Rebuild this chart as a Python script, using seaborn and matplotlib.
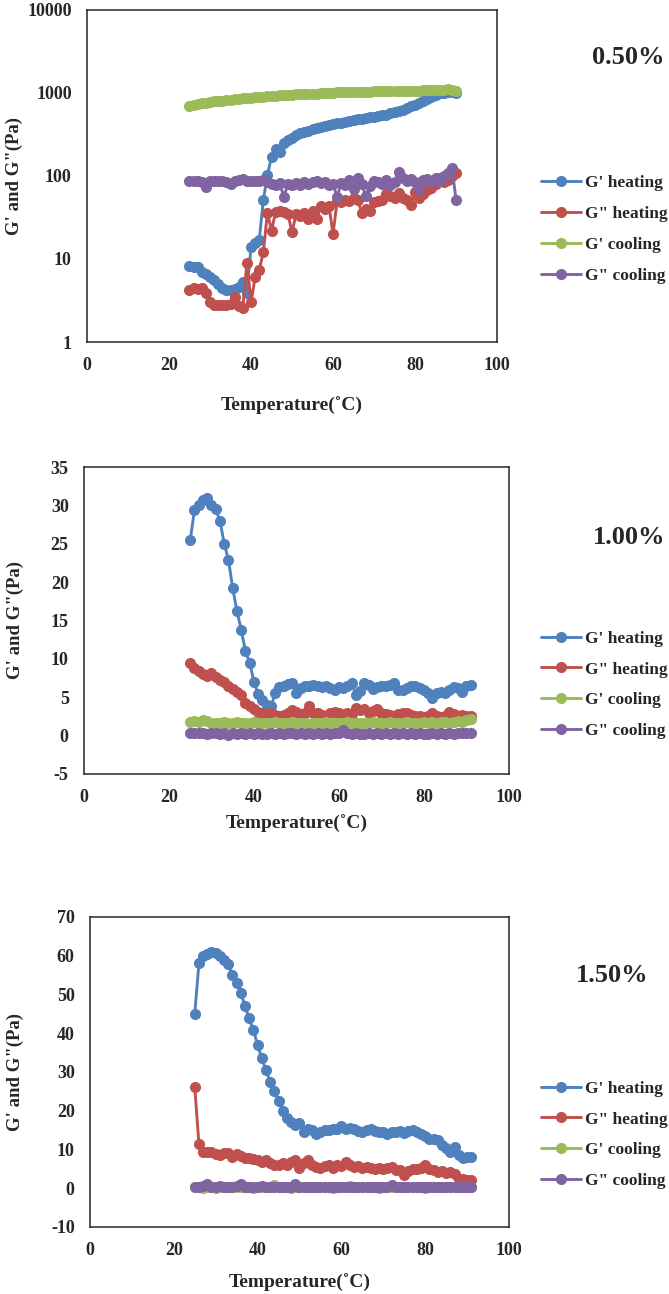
import numpy as np
import pandas as pd
import matplotlib
matplotlib.use("Agg")
import matplotlib.pyplot as plt
import seaborn as sns

# ---------------- data ----------------
series_names = ["G' heating", 'G" heating', "G' cooling", 'G" cooling']
series_colors = ["#4F81BD", "#C0504D", "#9BBB59", "#8064A2"]

# 0.50 % (log axis)
p1_temp = list(range(25, 91))
p1_g1_heat = [8.2, 8.0, 7.9, 7.0, 6.6, 6.0, 5.6, 5.0, 4.5, 4.2,
              4.2, 4.4, 4.6, 5.3, 3.9, 14, 15.5, 17, 51, 102,
              170, 210, 195, 250, 270, 290, 310, 330, 340, 350,
              365, 380, 390, 400, 410, 420, 430, 440, 450, 460,
              470, 480, 490, 500, 510, 520, 530, 540, 550, 570,
              590, 610, 630, 660, 690, 720, 760, 800, 850, 900,
              950, 990, 1010, 1030, 1040, 1000]
p1_g2_heat = [4.2, 4.5, 4.4, 4.5, 3.9, 3.0, 2.8, 2.8, 2.8, 2.8,
              2.9, 3.5, 2.7, 2.6, 9.0, 3.0, 6.0, 7.4, 12, 36,
              22, 37, 38, 37, 35, 21, 35, 33, 36, 30,
              38, 30, 43, 40, 44, 20, 50, 48, 52, 50,
              55, 52, 36, 40, 38, 48, 50, 52, 60, 58,
              55, 62, 55, 52, 45, 65, 55, 60, 68, 72,
              80, 95, 85, 90, 100, 110]
p1_g1_cool = [690, 710, 730, 750, 765, 780, 790, 800, 810, 820,
              830, 840, 850, 860, 870, 880, 890, 900, 905, 910,
              920, 930, 935, 940, 950, 955, 960, 965, 970, 975,
              980, 985, 990, 995, 1000, 1010, 1015, 1020, 1020, 1025,
              1030, 1030, 1035, 1040, 1040, 1045, 1045, 1050, 1050, 1050,
              1050, 1055, 1055, 1060, 1060, 1065, 1070, 1080, 1090, 1085,
              1080, 1090, 1100, 1110, 1100, 1060]
p1_g2_cool = [88, 88, 86, 85, 74, 86, 87, 86, 88, 85,
              80, 88, 90, 92, 88, 86, 88, 87, 90, 85,
              80, 78, 82, 56, 80, 78, 82, 78, 85, 80,
              84, 88, 82, 84, 78, 80, 56, 82, 78, 90,
              70, 95, 80, 57, 75, 88, 85, 80, 90, 78,
              85, 112, 95, 88, 92, 85, 70, 90, 92, 85,
              95, 88, 100, 110, 125, 52]

# 1.00 %
p2_temp = list(range(25, 92))
p2_g1_heat = [25.5, 29.4, 30.0, 30.7, 31.0, 30.0, 29.5, 28.0, 25.0, 22.9,
              19.2, 16.2, 13.8, 11.0, 9.5, 7.0, 5.4, 4.6, 4.0, 3.8,
              5.5, 6.3, 6.5, 6.7, 6.8, 5.5, 6.2, 6.4, 6.5, 6.6,
              6.4, 6.3, 6.4, 6.2, 5.9, 6.3, 6.2, 6.5, 6.8, 5.3,
              5.8, 6.8, 6.6, 6.1, 6.3, 6.5, 6.4, 6.6, 6.8, 6.0,
              5.9, 6.2, 6.4, 6.5, 6.2, 5.9, 5.5, 4.9, 5.5, 5.7,
              5.5, 6.0, 6.3, 6.2, 5.7, 6.5, 6.6]
p2_g2_heat = [9.4, 8.8, 8.4, 8.0, 7.7, 8.1, 7.6, 7.2, 7.0, 6.4,
              6.1, 5.7, 5.3, 4.2, 3.8, 3.4, 3.1, 2.9, 2.8, 2.9,
              2.7, 2.5, 2.7, 2.9, 3.3, 3.1, 2.8, 3.0, 3.8, 3.0,
              2.9, 2.7, 2.6, 2.9, 3.1, 3.0, 2.7, 2.9, 2.8, 3.6,
              3.3, 3.4, 3.0, 3.2, 3.4, 3.0, 2.8, 2.7, 2.6, 2.8,
              2.9, 3.0, 2.7, 2.6, 2.5, 2.4, 2.6, 3.0, 2.5, 2.4,
              2.6, 3.1, 2.8, 2.6, 2.7, 2.6, 2.5]
p2_g1_cool = [1.8, 1.9, 1.8, 2.0, 1.9, 1.7, 1.6, 1.7, 1.8, 1.6,
              1.7, 1.8, 1.7, 1.6, 1.6, 1.8, 1.7, 1.6, 1.7, 1.6,
              1.8, 1.7, 1.6, 1.7, 1.8, 1.6, 1.7, 1.6, 1.5, 1.7,
              1.6, 1.7, 1.8, 1.6, 1.7, 1.6, 1.7, 1.8, 1.7, 1.6,
              1.7, 1.6, 1.7, 1.8, 1.7, 1.6, 1.7, 1.8, 1.7, 1.6,
              1.7, 1.8, 1.7, 1.6, 1.7, 1.8, 1.7, 1.8, 1.7, 1.8,
              1.8, 1.7, 1.8, 1.9, 1.8, 2.0, 2.1]
p2_g2_cool = [0.3, 0.4, 0.3, 0.3, 0.2, 0.3, 0.3, 0.2, 0.3, 0.1,
              0.3, 0.2, 0.3, 0.2, 0.3, 0.2, 0.3, 0.2, 0.2, 0.3,
              0.2, 0.3, 0.2, 0.3, 0.3, 0.2, 0.3, 0.2, 0.3, 0.2,
              0.3, 0.2, 0.3, 0.2, 0.3, 0.4, 0.7, 0.3, 0.2, 0.3,
              0.2, 0.2, 0.3, 0.2, 0.3, 0.2, 0.3, 0.2, 0.3, 0.2,
              0.3, 0.2, 0.3, 0.2, 0.3, 0.2, 0.2, 0.3, 0.2, 0.3,
              0.2, 0.3, 0.2, 0.3, 0.3, 0.3, 0.4]

# 1.50 %
p3_temp = list(range(25, 92))
p3_g1_heat = [44.9, 58.0, 59.8, 60.5, 61.0, 60.8, 60.0, 59.0, 57.8, 55.0,
              53.0, 50.5, 47.0, 43.8, 40.8, 37.0, 33.5, 30.5, 27.5, 25.0,
              22.5, 20.0, 18.2, 17.0, 16.3, 16.7, 14.6, 15.4, 15.0, 14.0,
              14.6, 15.0, 15.0, 15.2, 15.4, 16.0, 15.4, 15.6, 15.2, 14.8,
              14.6, 15.0, 15.2, 14.8, 14.5, 14.4, 14.1, 14.6, 14.4, 14.8,
              14.3, 14.8, 14.9, 14.6, 14.0, 13.4, 12.8, 12.6, 12.4, 11.1,
              10.5, 9.4, 10.7, 8.5, 7.7, 8.0, 8.1]
p3_g2_heat = [26.2, 11.4, 9.4, 9.4, 9.4, 8.8, 8.5, 9.0, 9.1, 8.1,
              8.8, 8.3, 7.9, 7.7, 7.5, 7.2, 6.8, 7.2, 6.4, 6.1,
              5.9, 6.4, 5.9, 6.8, 7.2, 5.1, 6.6, 7.2, 6.0, 5.5,
              5.1, 5.7, 5.9, 5.1, 5.9, 5.7, 6.8, 5.9, 5.5, 5.7,
              5.3, 5.5, 5.1, 5.0, 5.3, 5.0, 5.1, 5.6, 4.8, 4.6,
              3.4, 4.5, 4.9, 5.0, 5.3, 5.9, 5.0, 4.6, 4.2, 4.4,
              3.8, 4.2, 3.6, 2.5, 2.4, 2.2, 2.1]
p3_g1_cool = [0.2, 0.2, 0.1, 0.3, 0.2, 0.1, 0.2, 0.2, 0.3, 0.2,
              0.2, 0.3, 0.2, 0.2, 0.1, 0.2, 0.3, 0.2, 0.2, 0.8,
              0.3, 0.2, 0.2, 0.1, 0.4, 0.2, 0.2, 0.3, 0.2, 0.2,
              0.3, 0.2, 0.2, 0.1, 0.2, 0.2, 0.2, 0.5, 0.2, 0.2,
              0.2, 0.3, 0.2, 0.2, 0.1, 0.2, 0.2, 0.4, 0.2, 0.2,
              0.2, 0.3, 0.2, 0.2, 0.2, 0.1, 0.2, 0.2, 0.3, 0.2,
              0.2, 0.2, 0.3, 0.2, 0.2, 0.3, 0.3]
p3_g2_cool = [0.3, 0.4, 0.5, 1.0, 0.4, 0.3, 0.5, 0.3, 0.4, 0.3,
              0.6, 1.0, 0.4, 0.3, 0.4, 0.3, 0.5, 0.3, 0.3, 0.4,
              0.3, 0.4, 0.3, 0.3, 1.0, 0.3, 0.4, 0.3, 0.3, 0.4,
              0.3, 0.4, 0.3, 0.3, 0.4, 0.3, 0.3, 0.4, 0.3, 0.3,
              0.4, 0.3, 0.3, 0.4, 0.3, 0.3, 0.3, 0.8, 0.4, 0.3,
              0.3, 0.3, 0.4, 0.3, 0.3, 0.3, 0.4, 0.3, 0.3, 0.3,
              0.3, 0.4, 0.3, 0.3, 0.3, 0.3, 0.3]

concentrations = ["0.50%", "1.00%", "1.50%"]


def long_frame(temp, cols):
    # stack the four series into one tidy frame for seaborn
    parts = []
    for name, vals in zip(series_names, cols):
        parts.append(pd.DataFrame({"temp": temp, "value": vals, "series": name}))
    return pd.concat(parts, ignore_index=True)


frames = [
    long_frame(p1_temp, [p1_g1_heat, p1_g2_heat, p1_g1_cool, p1_g2_cool]),
    long_frame(p2_temp, [p2_g1_heat, p2_g2_heat, p2_g1_cool, p2_g2_cool]),
    long_frame(p3_temp, [p3_g1_heat, p3_g2_heat, p3_g1_cool, p3_g2_cool]),
]

# ---------------- style ----------------
sns.set_style("white")
plt.rcParams["font.family"] = ["Liberation Serif", "DejaVu Serif"]
plt.rcParams["font.weight"] = "bold"
plt.rcParams["axes.labelweight"] = "bold"

fig = plt.figure(figsize=(6.69, 12.94), dpi=100)

# axes boxes in figure fractions [left, bottom, width, height]
boxes = [
    [0.130, 0.7357, 0.613, 0.2566],
    [0.1256, 0.4019, 0.635, 0.2372],
    [0.1345, 0.0518, 0.6263, 0.2396],
]
ylims = [(1, 10000), (-5, 35), (-10, 70)]
yticks = [[1, 10, 100, 1000, 10000], list(range(-5, 36, 5)), list(range(-10, 71, 10))]
ylabel_x = [-0.155, -0.142, -0.157]
xlabel_y = [-0.165, -0.135, -0.152]
legend_pos = [(1.107, 0.339), (1.075, 0.290), (1.076, 0.297)]
conc_pos = [(628, 58), (629, 537), (612, 976)]

for i, df in enumerate(frames):
    ax = fig.add_axes(boxes[i])
    sns.lineplot(data=df, x="temp", y="value", hue="series", hue_order=series_names,
                 palette=series_colors, marker="o", markersize=8, markeredgewidth=0,
                 linewidth=2.1, estimator=None, errorbar=None, legend=False, ax=ax)
    if i == 0:
        ax.set_yscale("log")
        ax.minorticks_off()
    ax.set_xlim(0, 100)
    ax.set_ylim(*ylims[i])
    ax.set_xticks([0, 20, 40, 60, 80, 100])
    ax.set_yticks(yticks[i])
    ax.set_yticklabels([str(t) for t in yticks[i]])
    ax.tick_params(length=0, labelsize=13, pad=11)
    for s in ax.spines.values():
        s.set_color("#262626")
        s.set_linewidth(1.1)
        s.set_visible(True)

    ax.set_xlabel("Temperature(\u02daC)", fontsize=14, fontweight="bold")
    ax.set_ylabel("G' and G\"(Pa)", fontsize=13.5, fontweight="bold")
    ax.yaxis.set_label_coords(ylabel_x[i], 0.5)
    ax.xaxis.set_label_coords(0.5, xlabel_y[i])

    ax.legend(ax.get_lines()[:4], series_names, loc="center left",
              bbox_to_anchor=legend_pos[i], frameon=False, fontsize=12.5,
              handlelength=2.3, handletextpad=0.25, labelspacing=0.85,
              borderpad=0, borderaxespad=0)

    fig.text(conc_pos[i][0] / 669, 1 - conc_pos[i][1] / 1294, concentrations[i],
             ha="center", va="center", fontsize=19, fontweight="bold")

fig.savefig("out.png", dpi=100)
